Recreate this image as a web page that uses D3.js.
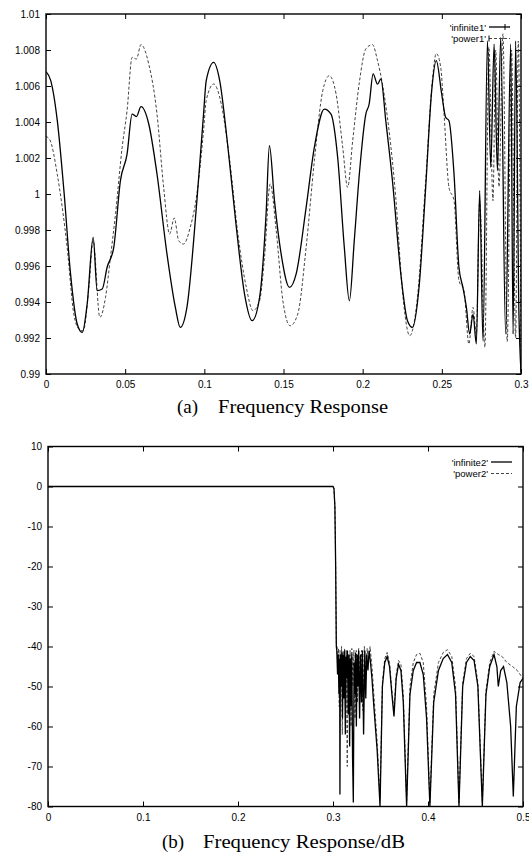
<!DOCTYPE html>
<html><head><meta charset="utf-8">
<script src="https://cdn.jsdelivr.net/npm/d3@7"></script>
<style>body{margin:0;background:#fff}</style>
</head><body>
<svg id="c" width="529" height="854"></svg>
<script>
// ---------- DATA ----------
const topXTicks = [0, 0.05, 0.1, 0.15, 0.2, 0.25, 0.3];
const topXLabels = ["0", "0.05", "0.1", "0.15", "0.2", "0.25", "0.3"];
const topYTicks = [0.99, 0.992, 0.994, 0.996, 0.998, 1, 1.002, 1.004, 1.006, 1.008, 1.01];
const topYLabels = ["0.99", "0.992", "0.994", "0.996", "0.998", "1", "1.002", "1.004", "1.006", "1.008", "1.01"];
const botXTicks = [0, 0.1, 0.2, 0.3, 0.4, 0.5];
const botXLabels = ["0", "0.1", "0.2", "0.3", "0.4", "0.5"];
const botYTicks = [10, 0, -10, -20, -30, -40, -50, -60, -70, -80];
const botYLabels = ["10", "0", "-10", "-20", "-30", "-40", "-50", "-60", "-70", "-80"];
const seriesNames1 = ["'infinite1'", "'power1'"];
const seriesNames2 = ["'infinite2'", "'power2'"];
const captionA = ["(a)", "Frequency Response"];
const captionB = ["(b)", "Frequency Response/dB"];

const infinite1 = [[0.0,1.0068],[0.003,1.0063],[0.0071,1.0041],[0.0113,1.0002],[0.0155,0.99556],[0.0197,0.99278],[0.0229,0.99231],[0.026,0.99389],[0.0298,0.99759],[0.0323,0.99463],[0.0355,0.99472],[0.0386,0.99593],[0.0428,0.99704],[0.047,1.00074],[0.0512,1.00222],[0.0544,1.00444],[0.0571,1.0043],[0.06,1.00485],[0.0649,1.00389],[0.0701,1.00111],[0.0764,0.99667],[0.0817,0.9937],[0.0848,0.99259],[0.089,0.9937],[0.0953,0.99963],[0.0995,1.00444],[0.1012,1.0063],[0.1059,1.00731],[0.1097,1.0063],[0.1149,1.0026],[0.1202,0.99815],[0.1254,0.99444],[0.1302,0.99296],[0.1349,0.99426],[0.139,0.99889],[0.1411,1.00268],[0.1443,0.99963],[0.1485,0.99667],[0.1538,0.99481],[0.158,0.99556],[0.1643,0.99926],[0.1695,1.0026],[0.1758,1.00472],[0.18,1.00444],[0.1842,1.00204],[0.1884,0.99704],[0.1916,0.99407],[0.1947,0.99741],[0.1979,1.00111],[0.202,1.00444],[0.2041,1.005],[0.2066,1.00667],[0.2094,1.0061],[0.2115,1.00639],[0.2146,1.00407],[0.2188,1.00074],[0.2241,0.99556],[0.2283,0.99296],[0.2314,0.99259],[0.2356,0.99481],[0.2398,1.00037],[0.2436,1.00574],[0.2465,1.00741],[0.2499,1.00556],[0.2524,1.00426],[0.2545,1.00407],[0.2577,1.00111],[0.2608,0.99593],[0.2633,0.99481],[0.2655,0.9937],[0.2676,0.99222],[0.2697,0.99333],[0.2718,0.99167],[0.2739,1.00019],[0.276,0.99185],[0.2788,1.0085],[0.2809,1.00148],[0.283,1.00833],[0.2851,1.0013],[0.2872,1.0087],[0.2903,0.99222],[0.2935,1.00833],[0.295,0.99222],[0.2966,1.0085],[0.2987,0.99333],[0.3,0.9901]];

const power1 = [[0.0,1.0032],[0.0025,1.003],[0.0071,1.0011],[0.0134,0.997],[0.0176,0.9933],[0.0208,0.9925],[0.0235,0.9924],[0.0271,0.9948],[0.0298,0.9974],[0.034,0.99315],[0.0376,0.99426],[0.0407,0.99648],[0.0439,0.99889],[0.0481,1.0026],[0.0512,1.00463],[0.0544,1.00759],[0.0571,1.0075],[0.06,1.0083],[0.0649,1.00722],[0.0701,1.00444],[0.0743,1.00037],[0.0781,0.99778],[0.081,0.99867],[0.0838,0.99741],[0.0869,0.99722],[0.0911,0.99815],[0.0953,1.0],[0.0995,1.0035],[0.1012,1.0052],[0.1059,1.00611],[0.1107,1.005],[0.116,1.00185],[0.1212,0.99778],[0.1265,0.99481],[0.1307,0.99352],[0.1349,0.99407],[0.138,0.99648],[0.1416,1.00056],[0.1454,0.99796],[0.1496,0.99407],[0.1542,0.99268],[0.159,0.99333],[0.1643,0.99704],[0.1695,1.00185],[0.1748,1.00574],[0.1789,1.00657],[0.1832,1.00556],[0.1874,1.0026],[0.1905,1.00037],[0.1937,1.00296],[0.1979,1.0062],[0.202,1.00806],[0.2062,1.0083],[0.2094,1.0074],[0.2125,1.0061],[0.2167,1.0035],[0.2209,0.99981],[0.2251,0.99463],[0.2297,0.99213],[0.2346,0.99426],[0.2398,1.00074],[0.244,1.0063],[0.2465,1.00781],[0.2493,1.00704],[0.2514,1.00444],[0.2545,1.00037],[0.2577,0.99963],[0.2608,0.99519],[0.264,0.99463],[0.2671,0.99167],[0.2697,0.9937],[0.2718,0.99222],[0.2739,0.99963],[0.2772,0.99148],[0.2797,1.00815],[0.2823,0.99963],[0.284,1.008],[0.2861,1.0004],[0.2886,1.0089],[0.2913,0.9918],[0.294,1.008],[0.2966,0.992],[0.2983,1.0085],[0.3,0.9904]];

const infinite2 = [[0,0],[0.1,0],[0.2,0],[0.3,0],[0.301,-0.5],[0.302,-5],[0.3028,-20],[0.3035,-40],[0.304,-41],[0.3048,-47],[0.3055,-42],[0.3063,-52],[0.307,-43],[0.3073,-77],[0.3078,-42],[0.3086,-50],[0.3093,-41.5],[0.31,-58],[0.3107,-42],[0.3115,-53],[0.3122,-41],[0.313,-62],[0.3137,-42.5],[0.3145,-48],[0.3152,-41],[0.316,-57],[0.3168,-42],[0.3175,-65],[0.3182,-43],[0.319,-55],[0.3198,-42],[0.3206,-68],[0.3214,-79],[0.3222,-44],[0.323,-52],[0.3238,-41.5],[0.3246,-60],[0.3254,-42],[0.3262,-50],[0.327,-41],[0.328,-58],[0.329,-42],[0.33,-54],[0.331,-41],[0.3322,-62],[0.3335,-41],[0.3345,-53],[0.3355,-42],[0.3368,-46],[0.338,-41],[0.3395,-44],[0.341,-48],[0.343,-55],[0.3465,-66],[0.3495,-80],[0.352,-50],[0.3545,-44],[0.357,-42.5],[0.3595,-45],[0.362,-52],[0.3642,-57.5],[0.3665,-48],[0.369,-44.5],[0.3715,-46],[0.374,-54],[0.3775,-80],[0.381,-52],[0.3845,-46],[0.388,-44],[0.3915,-44],[0.395,-47],[0.3985,-58],[0.402,-80],[0.406,-54],[0.411,-46],[0.416,-43],[0.4205,-42],[0.425,-44],[0.429,-52],[0.4326,-80],[0.4365,-50],[0.4405,-44],[0.4445,-42.5],[0.4485,-43.5],[0.4525,-50],[0.4572,-80],[0.461,-52],[0.465,-45],[0.4695,-42],[0.4725,-45],[0.474,-50],[0.4765,-46],[0.4795,-45],[0.483,-49],[0.487,-60],[0.4898,-77.5],[0.493,-55],[0.497,-49],[0.5,-48]];

const power2 = [[0,0],[0.1,0],[0.2,0],[0.3,0],[0.301,-0.5],[0.302,-5],[0.3028,-20],[0.3035,-39],[0.3042,-40],[0.305,-45],[0.3058,-40.5],[0.3066,-55],[0.3074,-41],[0.3082,-48],[0.309,-40],[0.3098,-62],[0.3106,-41],[0.3114,-50],[0.3122,-40.5],[0.3132,-56],[0.314,-41],[0.315,-70],[0.316,-42],[0.317,-52],[0.318,-41],[0.319,-60],[0.3198,-40.5],[0.321,-50],[0.322,-41],[0.3232,-58],[0.3245,-41],[0.3258,-54],[0.327,-40.5],[0.3285,-50],[0.33,-41],[0.3315,-56],[0.333,-40],[0.3345,-48],[0.336,-40.5],[0.3375,-44],[0.339,-40],[0.341,-45],[0.343,-52],[0.3465,-64],[0.3495,-78],[0.352,-49],[0.3545,-43],[0.357,-41.5],[0.3595,-44],[0.362,-51],[0.3642,-56],[0.3665,-47],[0.369,-43.5],[0.3715,-44.5],[0.374,-52],[0.3775,-79],[0.381,-50],[0.3845,-44],[0.388,-42],[0.3915,-41.7],[0.395,-44],[0.3985,-55],[0.402,-79],[0.406,-52],[0.411,-44],[0.416,-41.5],[0.4205,-40.8],[0.425,-42.5],[0.429,-50],[0.4326,-79],[0.4365,-49],[0.4405,-43],[0.4445,-41.7],[0.4485,-42.5],[0.4525,-49],[0.4572,-79],[0.461,-51],[0.465,-44],[0.4695,-41.2],[0.474,-42],[0.478,-42.5],[0.483,-44],[0.489,-45],[0.494,-46],[0.5,-48]];

// ---------- DRAW ----------
const svg = d3.select("#c");
const tickFont = "'Liberation Sans', Arial, sans-serif";
const capFont = "'Liberation Serif', 'Times New Roman', serif";

function panel(cfg) {
  const {L, R, T, B, xDom, yDom, xTicks, xLabels, yTicks, yLabels, s1, s2, names, legendY, id, curve} = cfg;
  const x = d3.scaleLinear().domain(xDom).range([L, R]);
  const y = d3.scaleLinear().domain(yDom).range([B, T]);
  const g = svg.append("g");

  g.append("clipPath").attr("id", id).append("rect")
    .attr("x", L).attr("y", T).attr("width", R - L).attr("height", B - T);

  const axStyle = sel => {
    sel.select(".domain").remove();
    sel.selectAll("line").attr("stroke", "#000").attr("stroke-width", 1);
    sel.selectAll("text").attr("font-family", tickFont).attr("font-size", 10).attr("fill", "#000");
  };
  g.append("g").attr("transform", `translate(${L},0)`)
    .call(d3.axisLeft(y).tickValues(yTicks).tickSize(-5).tickPadding(6)
      .tickFormat((d, i) => yLabels[i])).call(axStyle);
  g.append("g").attr("transform", `translate(${R},0)`)
    .call(d3.axisRight(y).tickValues(yTicks).tickSize(-5).tickFormat("")).call(axStyle);
  g.append("g").attr("transform", `translate(0,${B})`)
    .call(d3.axisBottom(x).tickValues(xTicks).tickSize(-5).tickPadding(7)
      .tickFormat((d, i) => xLabels[i])).call(axStyle);
  g.append("g").attr("transform", `translate(0,${T})`)
    .call(d3.axisTop(x).tickValues(xTicks).tickSize(-5).tickFormat("")).call(axStyle);

  const line = d3.line().x(d => x(d[0])).y(d => y(d[1])).curve(curve);
  const plot = g.append("g").attr("clip-path", `url(#${id})`);
  plot.append("path").datum(s2).attr("d", line).attr("fill", "none")
    .attr("stroke", "#444").attr("stroke-width", 1).attr("stroke-dasharray", "3,2");
  plot.append("path").datum(s1).attr("d", line).attr("fill", "none")
    .attr("stroke", "#000").attr("stroke-width", 1.3);

  g.append("rect").attr("x", L).attr("y", T).attr("width", R - L).attr("height", B - T)
    .attr("fill", "none").attr("stroke", "#000").attr("stroke-width", 1.4);

  // legend
  const lx = R - 35;
  names.forEach((n, i) => {
    const ly = legendY + i * 11.5;
    g.append("text").attr("x", lx).attr("y", ly + 3.5).attr("text-anchor", "end")
      .attr("font-family", tickFont).attr("font-size", 9.5).text(n);
    g.append("line").attr("x1", lx + 3).attr("x2", lx + 24).attr("y1", ly).attr("y2", ly)
      .attr("stroke", i === 0 ? "#000" : "#444").attr("stroke-width", i === 0 ? 1.3 : 1)
      .attr("stroke-dasharray", i === 0 ? null : "3,2");
    if (cfg.legendTicks) {
      const tx = i === 0 ? lx + 19 : lx + 3;
      g.append("line").attr("x1", tx).attr("x2", tx).attr("y1", ly - 3).attr("y2", ly + 3)
        .attr("stroke", "#000").attr("stroke-width", 1);
    }
  });
  return {x, y};
}

panel({L: 46, R: 521, T: 14, B: 374, xDom: [0, 0.3], yDom: [0.99, 1.01],
  xTicks: topXTicks, xLabels: topXLabels, yTicks: topYTicks, yLabels: topYLabels,
  s1: infinite1, s2: power1, names: seriesNames1, legendY: 27, id: "clipA",
  curve: d3.curveMonotoneX, legendTicks: true});

panel({L: 48, R: 523, T: 446.5, B: 806.5, xDom: [0, 0.5], yDom: [-80, 10],
  xTicks: botXTicks, xLabels: botXLabels, yTicks: botYTicks, yLabels: botYLabels,
  s1: infinite2, s2: power2, names: seriesNames2, legendY: 462, id: "clipB",
  curve: d3.curveLinear, legendTicks: false});

// captions
function caption(parts, y, x0, x1, w1) {
  svg.append("text").attr("x", x0).attr("y", y).attr("font-family", capFont)
    .attr("font-size", 19).text(parts[0]);
  svg.append("text").attr("x", x1).attr("y", y).attr("font-family", capFont)
    .attr("font-size", 19).attr("textLength", w1).attr("lengthAdjust", "spacingAndGlyphs")
    .text(parts[1]);
}
caption(captionA, 413, 177, 218, 170);
caption(captionB, 848, 162, 203, 202);
</script>
</body></html>
